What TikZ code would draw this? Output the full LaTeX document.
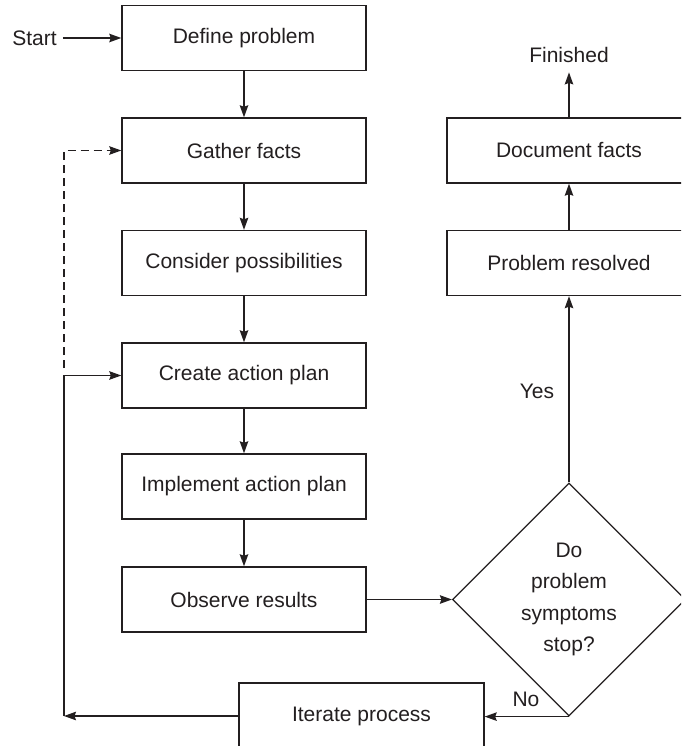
\documentclass[tikz,border=0pt]{standalone}
\usepackage{fontspec}
\setmainfont{Liberation Sans}
\usetikzlibrary{arrows.meta,shapes.geometric}
\definecolor{ink}{HTML}{231F20}
\begin{document}
\begin{tikzpicture}[x=1pt,y=-1pt,
  every node/.style={text=ink, font=\fontsize{21}{24}\selectfont},
  box/.style={draw=ink, line width=1.4pt, minimum width=244pt, minimum height=65pt, inner sep=0pt},
  decision/.style={draw=ink, line width=1.2pt, diamond, aspect=1, minimum width=233pt, minimum height=233pt, inner sep=0pt, align=center, font=\fontsize{21}{31.5}\selectfont},
  plain/.style={inner sep=0pt},
  conn/.style={draw=ink, line width=1.3pt, -{Stealth[length=12pt,width=8.5pt,inset=1.5pt]}},
  dashconn/.style={conn, dash pattern=on 8pt off 5pt}]
\clip (0,0) rectangle (681,746);
\fill[white] (0,0) rectangle (681,746);

\node[box] (define) at (244,38) {Define problem};
\node[box] (gather) at (244,150.5) {Gather facts};
\node[box] (consider) at (244,263) {Consider possibilities};
\node[box] (create) at (244,375.5) {Create action plan};
\node[box] (implement) at (244,486.5) {Implement action plan};
\node[box] (observe) at (244,599.5) {Observe results};
\node[box, minimum width=245pt, minimum height=66pt] (iterate) at (361.5,716) {Iterate process};
\node[box] (resolved) at (569,263) {Problem resolved};
\node[box] (document) at (569,150.5) {Document facts};
\node[decision] (dec) at (569,599.5) {Do\\problem\\symptoms\\stop?};

\node[plain] (start) at (34.5,38) {Start};
\node[plain] (finished) at (569,55) {Finished};
\node[plain] (yes) at (537,391) {Yes};
\node[plain] (no) at (526,699) {No};

\coordinate (c1) at (64,716);
\coordinate (d1) at (64,368);

\draw[conn, shorten <=6pt] (start) -- (define);
\draw[conn] (define) -- (gather);
\draw[conn] (gather) -- (consider);
\draw[conn] (consider) -- (create);
\draw[conn] (create) -- (implement);
\draw[conn] (implement) -- (observe);
\draw[conn] (observe) -- (dec);
\draw[conn] (dec.north) -- (resolved);
\draw[conn] (resolved) -- (document);
\draw[conn, shorten >=9.5pt] (document) -- (finished);
\draw[conn] (dec.south) -- (dec.south -| iterate.east);
\draw[conn] (iterate) -- (c1);
\draw[conn] (c1) -- (c1 |- create.west) -- (create.west);
\draw[dashconn] (d1) |- (gather.west);
\end{tikzpicture}
\end{document}
